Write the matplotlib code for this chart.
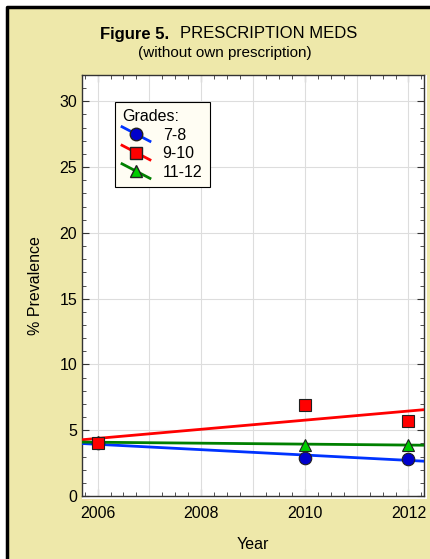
import numpy as np
import matplotlib
matplotlib.use("Agg")
import matplotlib.pyplot as plt
from matplotlib.lines import Line2D
from matplotlib.patches import Rectangle
from matplotlib.legend_handler import HandlerLine2D
from matplotlib.ticker import MultipleLocator

plt.rcParams['font.family'] = ['Liberation Sans', 'DejaVu Sans']

# data
years = [2006, 2010, 2012]
grade_labels = ['7-8', '9-10', '11-12']
grade_7_8 = [4.0, 2.9, 2.85]
grade_9_10 = [4.0, 6.9, 5.7]
grade_11_12 = [4.1, 3.9, 3.9]

BG = '#EEE8AA'


class DiagonalHandler(HandlerLine2D):
    # legend key: line drawn corner to corner with the marker in the middle
    def create_artists(self, legend, orig_handle, xdescent, ydescent,
                       width, height, fontsize, trans):
        x0, x1 = -xdescent, -xdescent + width
        y0, y1 = -ydescent + height * 1.15, -ydescent - height * 0.15
        line = Line2D([x0, x1], [y0, y1], color=orig_handle.get_color(),
                      lw=orig_handle.get_linewidth())
        mk = Line2D([(x0 + x1) / 2], [(y0 + y1) / 2],
                    marker=orig_handle.get_marker(),
                    markersize=orig_handle.get_markersize(),
                    markerfacecolor=orig_handle.get_markerfacecolor(),
                    markeredgecolor=orig_handle.get_markeredgecolor(),
                    linestyle='none')
        line.set_transform(trans)
        mk.set_transform(trans)
        return [line, mk]


fig = plt.figure(figsize=(4.30, 5.59), dpi=100, facecolor='white')
# beige panel, black frame only on top and left
fx, fy = 7 / 430, 1 - 7 / 559
fig.add_artist(Rectangle((fx, 0), 1 - fx, fy, transform=fig.transFigure,
                         facecolor=BG, edgecolor='none', zorder=-2))
fig.add_artist(Line2D([fx, fx, 1], [0, fy, fy], transform=fig.transFigure,
                      color='black', lw=2.5, zorder=-1))
# white margin that peeks out right and below the plot box
fig.add_artist(Rectangle((82 / 430, 60 / 559), 345 / 430, 424 / 559,
                         transform=fig.transFigure, facecolor='white',
                         edgecolor='none', zorder=-1))

ax = fig.add_axes([82 / 430, 63 / 559, 342 / 430, 421 / 559])
ax.set_facecolor('white')
ax.set_zorder(1)

series = [
    (grade_7_8, '#0033FF', '#0000CC', 'o', 9),
    (grade_9_10, '#FF0000', '#FF0000', 's', 8.5),
    (grade_11_12, '#008000', '#00CC00', '^', 9),
]

x_fit = np.array([2005.6, 2012.4])
handles = []
for vals, lc, fc, mk, ms in series:
    slope, icpt = np.polyfit(years, vals, 1)
    ax.plot(x_fit, slope * x_fit + icpt, color=lc, lw=2, zorder=3)
    z = 5 if mk == 's' else 4
    ax.plot(years, vals, linestyle='none', marker=mk, markersize=ms,
            markerfacecolor=fc, markeredgecolor='#202020', mew=0.8, zorder=z)
    handles.append(Line2D([], [], color=lc, lw=2, marker=mk, markersize=ms,
                          markerfacecolor=fc, markeredgecolor='#202020'))

ax.set_xlim(2005.7, 2012.3)
ax.set_ylim(0, 32)
ax.xaxis.set_major_locator(MultipleLocator(2))
ax.xaxis.set_minor_locator(MultipleLocator(0.25))
ax.yaxis.set_major_locator(MultipleLocator(5))
ax.yaxis.set_minor_locator(MultipleLocator(1))
for yr in range(2006, 2013):
    ax.axvline(yr, color='#DDDDDD', lw=0.8, zorder=1)
ax.grid(axis='y', color='#DDDDDD', lw=0.8, zorder=1)
ax.set_axisbelow(True)

ax.tick_params(which='both', direction='in', top=True, right=True,
               colors='#333333', labelcolor='black', labelsize=11.5)
ax.tick_params(which='major', length=5)
ax.tick_params(which='minor', length=3)
ax.tick_params(axis='x', pad=7)
for s in ax.spines.values():
    s.set_color('#333333')
    s.set_linewidth(1)

ax.set_xlabel('Year', fontsize=11.5, labelpad=12)
ax.set_ylabel('% Prevalence', fontsize=11.5, labelpad=12)

leg = ax.legend(handles, grade_labels, title='Grades:', alignment='left',
                loc='upper left', bbox_to_anchor=(0.096, 0.936),
                borderaxespad=0, fancybox=False, framealpha=1,
                edgecolor='black', facecolor='#FFFDF3', fontsize=11.5,
                title_fontsize=11.5, handlelength=1.75, handletextpad=0.8,
                labelspacing=0.22, borderpad=0.45,
                handler_map={Line2D: DiagonalHandler()})
leg.get_frame().set_linewidth(0.8)
leg.set_zorder(10)

fig.text(100 / 430, 1 - 34 / 559, 'Figure 5.', fontsize=12, weight='bold',
         ha='left', va='center')
fig.text(180 / 430, 1 - 34 / 559, 'PRESCRIPTION MEDS', fontsize=12,
         ha='left', va='center')
fig.text(225 / 430, 1 - 53 / 559, '(without own prescription)', fontsize=11,
         ha='center', va='center')

fig.savefig('out.png', dpi=100, facecolor=fig.get_facecolor())
